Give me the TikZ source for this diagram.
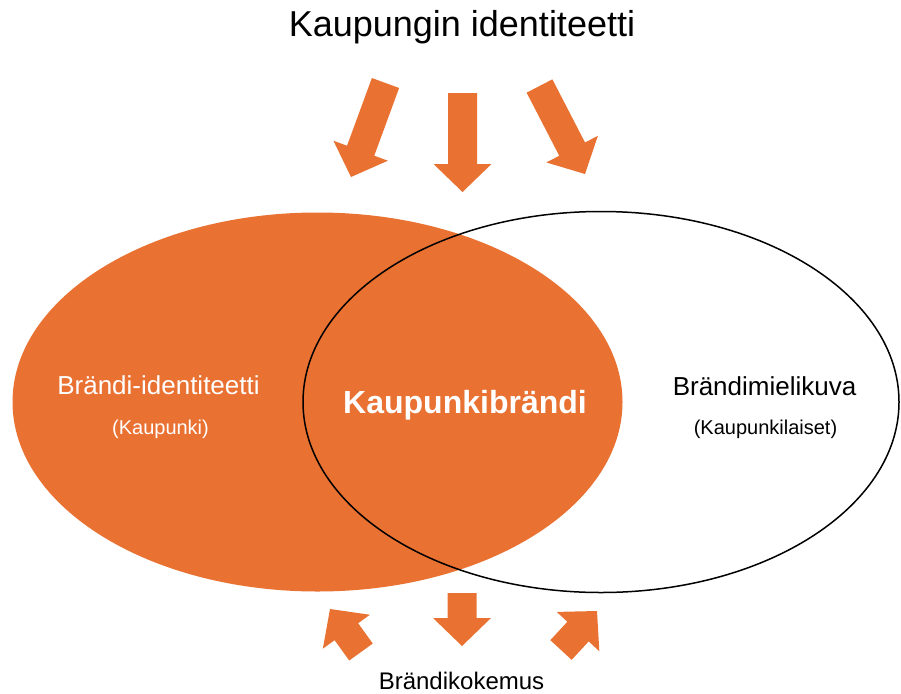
\documentclass[tikz,border=0pt]{standalone}
\usepackage{fontspec}
\setmainfont{Liberation Sans}
\usetikzlibrary{calc}
\definecolor{brandorange}{HTML}{E97132}
\tikzset{
    bigarrow/.style={fill=brandorange, draw=none},
    identity/.style={fill=brandorange, draw=none},
    image/.style={draw=black, line width=1.5pt},
    heading/.style={font=\fontsize{36}{40}\selectfont, anchor=base, inner sep=0pt},
    mainlabel/.style={font=\fontsize{26}{30}\selectfont, anchor=base, inner sep=0pt},
    sublabel/.style={font=\fontsize{20}{24}\selectfont, anchor=base, inner sep=0pt},
    corelabel/.style={font=\fontsize{32}{36}\selectfont\bfseries, anchor=base, inner sep=0pt, text=white},
    footlabel/.style={font=\fontsize{24}{28}\selectfont, anchor=base, inner sep=0pt},
}
% block arrow from tail coordinate #1 to tip coordinate #2
\newcommand{\blockarrow}[2]{%
    \coordinate (#1b) at ($(#2)!28pt!(#1)$);
    \fill[bigarrow] ($(#1)!14.5pt!90:(#2)$) -- ($(#1b)!14.5pt!90:(#2)$)
        -- ($(#1b)!29pt!90:(#2)$) -- (#2) -- ($(#1b)!29pt!-90:(#2)$)
        -- ($(#1b)!14.5pt!-90:(#2)$) -- ($(#1)!14.5pt!-90:(#2)$) -- cycle;
}

\begin{document}
\begin{tikzpicture}[x=1pt, y=-1pt]
    \useasboundingbox (0,0) rectangle (901,693);

    % Brand identity (filled) and brand image (outline)
    \fill[identity] (317.5,402) ellipse [x radius=305, y radius=189.5];
    \draw[image] (601,402) ellipse [x radius=298, y radius=190.5];

    % Heading
    \node[heading] (city) at (462,37) {Kaupungin identiteetti};

    % Top arrows
    \coordinate (tl) at (385.5,83);   \coordinate (tlh) at (351,177);
    \coordinate (tm) at (462.5,93);   \coordinate (tmh) at (462.5,192);
    \coordinate (tr) at (539.5,86);   \coordinate (trh) at (585,174);
    \blockarrow{tl}{tlh}
    \blockarrow{tm}{tmh}
    \blockarrow{tr}{trh}

    % Left circle
    \node[mainlabel, text=white] (ident) at (158.5,394) {Brändi-identiteetti};
    \node[sublabel, text=white] (identsub) at (160.5,434) {(Kaupunki)};

    % Overlap
    \node[corelabel] (core) at (465,413) {Kaupunkibrändi};

    % Right circle
    \node[mainlabel] (img) at (764.5,395) {Brändimielikuva};
    \node[sublabel] (imgsub) at (765.5,434) {(Kaupunkilaiset)};

    % Bottom arrows
    \coordinate (bl) at (361,652);    \coordinate (blh) at (330,609);
    \coordinate (bm) at (462,593);    \coordinate (bmh) at (462,646);
    \coordinate (br) at (561,650);    \coordinate (brh) at (597,611);
    \blockarrow{bl}{blh}
    \blockarrow{bm}{bmh}
    \blockarrow{br}{brh}

    % Footer
    \node[footlabel] (exp) at (461.5,689) {Brändikokemus};
\end{tikzpicture}
\end{document}
